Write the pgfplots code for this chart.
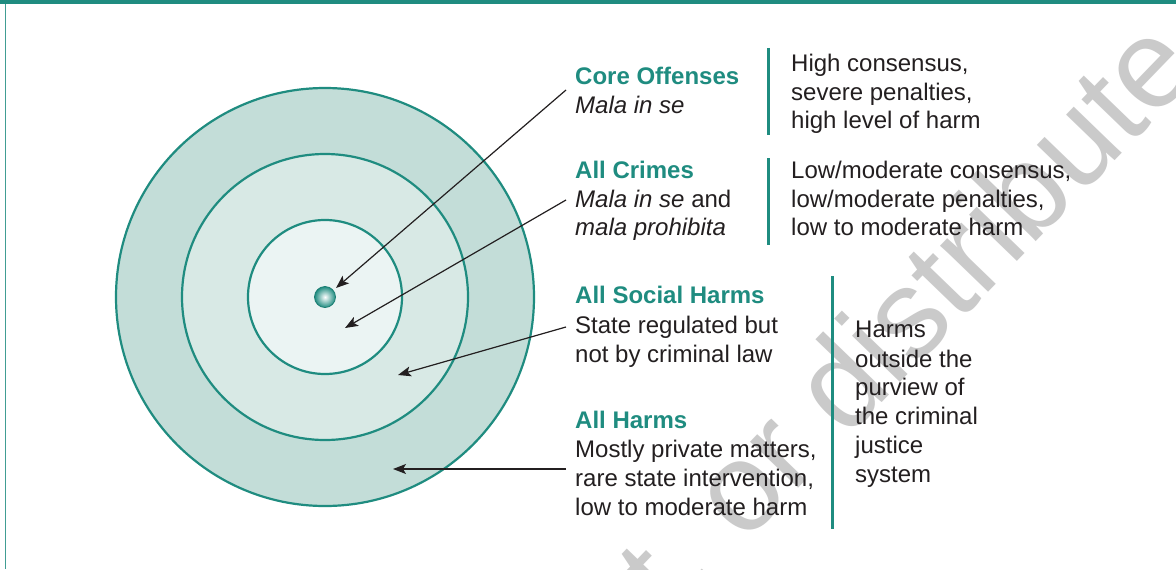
\documentclass[border=0pt]{standalone}
\usepackage{pgfplots}
\pgfplotsset{compat=1.18}
\usepackage{fontspec}
\setmainfont{Liberation Sans}
\usetikzlibrary{arrows.meta}
\definecolor{tealc}{HTML}{1F8C80}
\definecolor{ringA}{HTML}{C3DDD8}
\definecolor{ringB}{HTML}{D8E9E5}
\definecolor{ringC}{HTML}{EBF4F3}
\definecolor{txt}{HTML}{231F20}
\definecolor{wm}{HTML}{CACACA}
\tikzset{
  t/.style={anchor=base west, inner sep=0pt, text=txt, font=\fontsize{24bp}{29bp}\selectfont},
  h/.style={anchor=base west, inner sep=0pt, text=tealc, font=\fontsize{24bp}{29bp}\selectfont\bfseries},
  arr/.style={txt, line width=1.2bp, -{Stealth[length=13bp, width=10bp, inset=3bp]}}}
\pgfdeclareplotmark{tball}{%
  \shade[inner color=white, outer color=tealc, draw=tealc!90!black, line width=0.8bp]
    (0,0) circle (\pgfplotmarksize);}
\begin{document}
\begin{tikzpicture}
\begin{axis}[hide axis, scale only axis, width=1176bp, height=569bp,
  xmin=0, xmax=1176, ymin=0, ymax=569, y dir=reverse, clip=false]
\fill[white] (axis cs:0,0) rectangle (axis cs:1176,569);
% watermark
\node[wm, rotate=46, anchor=base west, inner sep=0pt, font=\fontsize{126bp}{126bp}\selectfont] at (axis cs:744,545) {\llap{post,\ }or distribute};
% frame
\fill[tealc] (axis cs:0,0) rectangle (axis cs:1176,4.5);
\draw[tealc!85, line width=1.5bp] (axis cs:5.5,4) -- (axis cs:5.5,569);
% circles
\filldraw[fill=ringA, draw=tealc, line width=2.2bp] (axis cs:325,297) circle[radius=209bp];
\filldraw[fill=ringB, draw=tealc, line width=2.2bp] (axis cs:325,297) circle[radius=143bp];
\filldraw[fill=ringC, draw=tealc, line width=2.2bp] (axis cs:325,297) circle[radius=77bp];
\addplot[only marks, mark=tball, mark size=10.5bp] coordinates {(325,297)};
% arrows
\draw[arr] (axis cs:566,90) -- (axis cs:336,288);
\draw[arr] (axis cs:566,200) -- (axis cs:345,328);
\draw[arr] (axis cs:566,327) -- (axis cs:398,375);
\draw[arr] (axis cs:566,469) -- (axis cs:393,469);
% separators
\draw[tealc, line width=3bp] (axis cs:768,48) -- (axis cs:768,135);
\draw[tealc, line width=3bp] (axis cs:768,158) -- (axis cs:768,245);
\draw[tealc, line width=3bp] (axis cs:832,276) -- (axis cs:832,529);
% left texts
\node[h] at (axis cs:575,85) {Core Offenses};
\node[t] at (axis cs:575,113) {\itshape Mala in se};
\node[h] at (axis cs:575,178) {All Crimes};
\node[t] at (axis cs:575,207) {\textit{Mala in se} and};
\node[t] at (axis cs:575,235) {\itshape mala prohibita};
\node[h] at (axis cs:575,303) {All Social Harms};
\node[t] at (axis cs:575,333) {State regulated but};
\node[t] at (axis cs:575,362) {not by criminal law};
\node[h] at (axis cs:575,428) {All Harms};
\node[t] at (axis cs:575,457) {Mostly private matters,};
\node[t] at (axis cs:575,486) {rare state intervention,};
\node[t] at (axis cs:575,515) {low to moderate harm};
% right texts
\node[t] at (axis cs:791,72) {High consensus,};
\node[t] at (axis cs:791,100) {severe penalties,};
\node[t] at (axis cs:791,128) {high level of harm};
\node[t] at (axis cs:791,178) {Low/moderate consensus,};
\node[t] at (axis cs:791,207) {low/moderate penalties,};
\node[t] at (axis cs:791,235) {low to moderate harm};
\node[t] at (axis cs:855,337) {Harms};
\node[t] at (axis cs:855,367) {outside the};
\node[t] at (axis cs:855,395) {purview of};
\node[t] at (axis cs:855,424) {the criminal};
\node[t] at (axis cs:855,453) {justice};
\node[t] at (axis cs:855,482) {system};
\end{axis}
\pgfresetboundingbox
\path[use as bounding box] (current axis.south west) rectangle (current axis.north east);
\end{tikzpicture}
\end{document}
